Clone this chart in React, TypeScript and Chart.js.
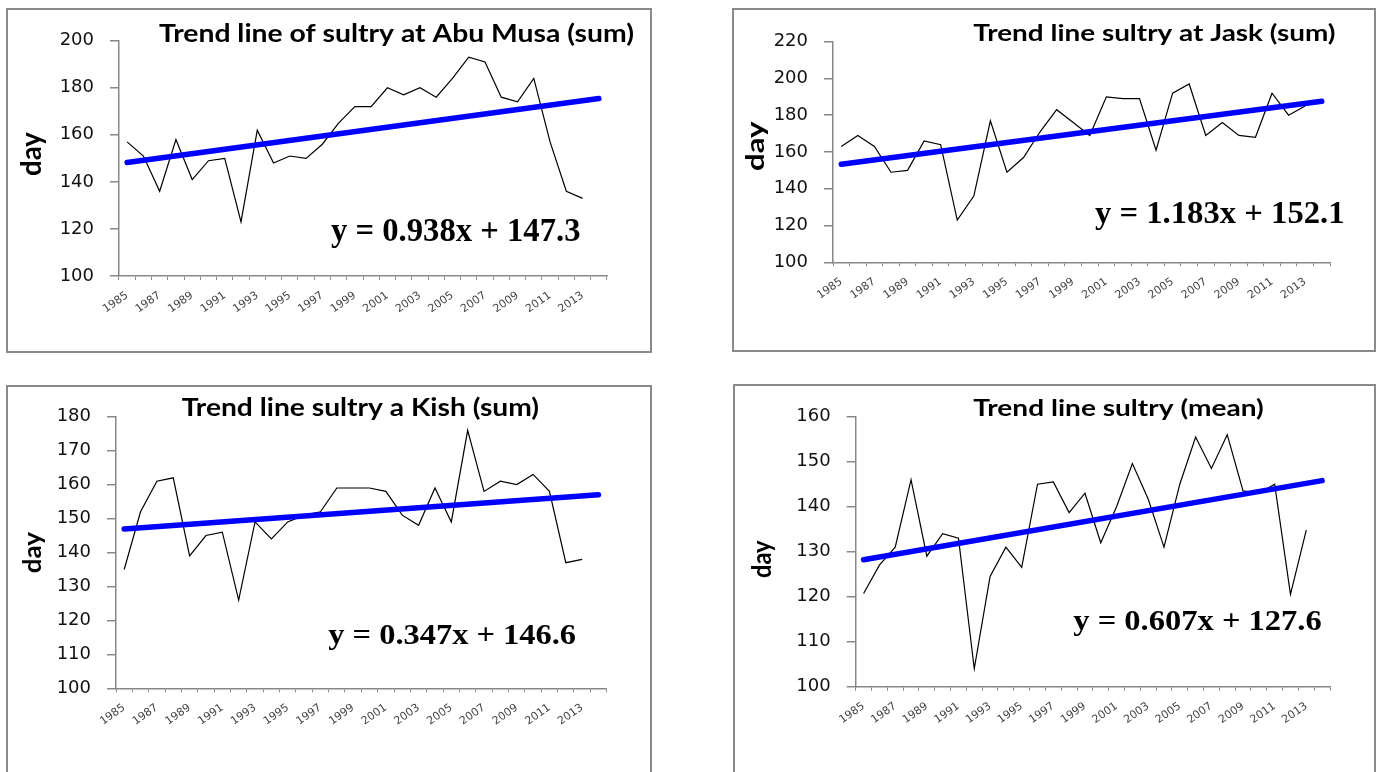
import React, { useEffect, useRef } from 'react';
import { Chart, registerables } from 'chart.js';

Chart.register(...registerables);

// ---------- data ----------
const years = [
  '1985', '1986', '1987', '1988', '1989', '1990', '1991', '1992', '1993', '1994',
  '1995', '1996', '1997', '1998', '1999', '2000', '2001', '2002', '2003', '2004',
  '2005', '2006', '2007', '2008', '2009', '2010', '2011', '2012', '2013', '2014',
];

const abuMusaValues = [157, 151, 136, 158, 141, 149, 150, 123, 162, 148, 151, 150, 156, 165, 172, 172, 180, 177, 180, 176, 184, 193, 191, 176, 174, 184, 157, 136, 133];
const jaskValues = [163, 169, 163, 149, 150, 166, 164, 123, 136, 177, 149, 157, 171, 183, 176, 169, 190, 189, 189, 161, 192, 197, 169, 176, 169, 168, 192, 180, 185];
const kishValues = [135, 152, 161, 162, 139, 145, 146, 126, 149, 144, 149, 151, 152, 159, 159, 159, 158, 151, 148, 159, 149, 176, 158, 161, 160, 163, 158, 137, 138];
const meanValues = [120.7, 127, 131, 146, 129, 134, 133, 104, 124.5, 131, 126.5, 145, 145.5, 138.7, 143, 132, 140, 149.6, 141.7, 131, 145, 155.5, 148.5, 156, 143.5, 143, 145, 120.5, 134.8];

// trend line end points (first and last category)
const trendYears = ['1985', '2014'];
const abuMusaTrend = [148.2, 175.4];
const jaskTrend = [153.3, 187.6];
const kishTrend = [146.9, 157.0];
const meanTrend = [128.2, 145.8];

const abuMusaTicks = [100, 120, 140, 160, 180, 200];
const jaskTicks = [100, 120, 140, 160, 180, 200, 220];
const kishTicks = [100, 110, 120, 130, 140, 150, 160, 170, 180];
const meanTicks = [100, 110, 120, 130, 140, 150, 160];

const abuMusaTitle = 'Trend line of sultry at Abu Musa (sum)';
const jaskTitle = 'Trend line sultry at Jask (sum)';
const kishTitle = 'Trend line sultry a Kish (sum)';
const meanTitle = 'Trend line sultry (mean)';

const abuMusaEquation = 'y = 0.938x + 147.3';
const jaskEquation = 'y = 1.183x + 152.1';
const kishEquation = 'y = 0.347x + 146.6';
const meanEquation = 'y = 0.607x + 127.6';

const yAxisLabel = 'day';

// ---------- layout (page coordinates) ----------
type Box = { l: number; t: number; r: number; b: number };
type TextSpec = { x0: number; x1: number; base: number; size: number };
type DaySpec = { x0: number; x1: number; y0: number; y1: number };
type Panel = {
  title: string;
  equation: string;
  values: number[];
  trend: number[];
  ticks: number[];
  box: Box;
  plot: Box;
  titleSpec: TextSpec;
  eqSpec: TextSpec;
  daySpec: DaySpec;
};

const panels: Panel[] = [
  {
    title: abuMusaTitle, equation: abuMusaEquation, values: abuMusaValues, trend: abuMusaTrend, ticks: abuMusaTicks,
    box: { l: 6, t: 8, r: 652, b: 353 },
    plot: { l: 119, t: 40.7, r: 607, b: 276 },
    titleSpec: { x0: 159, x1: 634, base: 41.7, size: 25.5 },
    eqSpec: { x0: 331, x1: 580, base: 241, size: 33 },
    daySpec: { x0: 20, x1: 46.5, y0: 131.7, y1: 175 },
  },
  {
    title: jaskTitle, equation: jaskEquation, values: jaskValues, trend: jaskTrend, ticks: jaskTicks,
    box: { l: 732, t: 8, r: 1376, b: 352 },
    plot: { l: 833, t: 41.7, r: 1330, b: 262.3 },
    titleSpec: { x0: 973.3, x1: 1335, base: 40.7, size: 23.3 },
    eqSpec: { x0: 1095, x1: 1343, base: 223, size: 31 },
    daySpec: { x0: 745, x1: 768.3, y0: 121, y1: 171 },
  },
  {
    title: kishTitle, equation: kishEquation, values: kishValues, trend: kishTrend, ticks: kishTicks,
    box: { l: 6, t: 385, r: 652, b: 800 },
    plot: { l: 116, t: 416.7, r: 606.7, b: 688.3 },
    titleSpec: { x0: 181.7, x1: 538.3, base: 415.7, size: 24.3 },
    eqSpec: { x0: 328.3, x1: 576, base: 644.3, size: 30 },
    daySpec: { x0: 21.7, x1: 45, y0: 531.7, y1: 573.3 },
  },
  {
    title: meanTitle, equation: meanEquation, values: meanValues, trend: meanTrend, ticks: meanTicks,
    box: { l: 733, t: 384, r: 1376, b: 800 },
    plot: { l: 855.7, t: 416.7, r: 1330, b: 686.7 },
    titleSpec: { x0: 973.3, x1: 1263.3, base: 415.7, size: 23.3 },
    eqSpec: { x0: 1073.3, x1: 1321.7, base: 630, size: 30 },
    daySpec: { x0: 751, x1: 776, y0: 540, y1: 578 },
  },
];

// ---------- text helpers ----------
function drawFitted(ctx: CanvasRenderingContext2D, text: string, font: string, x0: number, x1: number, base: number) {
  ctx.save();
  ctx.font = font;
  ctx.textAlign = 'left';
  ctx.textBaseline = 'alphabetic';
  ctx.fillStyle = '#000';
  const m = ctx.measureText(text);
  const ink = m.actualBoundingBoxLeft + m.actualBoundingBoxRight;
  const k = (x1 - x0) / ink;
  ctx.translate(x0, base);
  ctx.scale(k, 1);
  ctx.fillText(text, m.actualBoundingBoxLeft, 0);
  ctx.restore();
}

function drawVertical(ctx: CanvasRenderingContext2D, text: string, family: string, d: DaySpec) {
  ctx.save();
  ctx.font = `bold 100px ${family}`;
  let m = ctx.measureText(text);
  const thick100 = m.actualBoundingBoxAscent + m.actualBoundingBoxDescent;
  const size = (100 * (d.x1 - d.x0)) / thick100;
  ctx.font = `bold ${size}px ${family}`;
  ctx.textAlign = 'left';
  ctx.textBaseline = 'alphabetic';
  ctx.fillStyle = '#000';
  m = ctx.measureText(text);
  const ink = m.actualBoundingBoxLeft + m.actualBoundingBoxRight;
  const k = (d.y1 - d.y0) / ink;
  const baseX = d.x0 + m.actualBoundingBoxAscent;
  ctx.translate(baseX, d.y1);
  ctx.rotate(-Math.PI / 2);
  ctx.scale(k, 1);
  ctx.fillText(text, m.actualBoundingBoxLeft, 0);
  ctx.restore();
}

function ChartPanel({ p }: { p: Panel }) {
  const ref = useRef<HTMLCanvasElement | null>(null);
  const W = p.box.r - p.box.l;
  const H = p.box.b - p.box.t;

  useEffect(() => {
    if (!ref.current) return;
    const ox = p.box.l;
    const oy = p.box.t;
    const labelsPlugin = {
      id: 'panelTexts',
      afterDraw(chart: Chart) {
        const ctx = chart.ctx;
        const ts = p.titleSpec;
        drawFitted(ctx, p.title, `bold ${ts.size}px Lato`, ts.x0 - ox, ts.x1 - ox, ts.base - oy);
        const es = p.eqSpec;
        drawFitted(ctx, p.equation, `bold ${es.size}px "Liberation Serif"`, es.x0 - ox, es.x1 - ox, es.base - oy);
        const d = p.daySpec;
        drawVertical(ctx, yAxisLabel, 'Lato', { x0: d.x0 - ox, x1: d.x1 - ox, y0: d.y0 - oy, y1: d.y1 - oy });
      },
    };

    const chart = new Chart(ref.current, {
      type: 'line',
      data: {
        labels: years,
        datasets: [
          {
            label: 'Linear trend',
            data: [
              { x: trendYears[0], y: p.trend[0] },
              { x: trendYears[1], y: p.trend[1] },
            ] as any,
            borderColor: '#0000ff',
            borderWidth: 5.5,
            borderCapStyle: 'round',
            pointRadius: 0,
            order: 0,
          },
          {
            label: 'sultry',
            data: p.values,
            borderColor: '#000000',
            borderWidth: 1.2,
            pointRadius: 0,
            tension: 0,
            order: 1,
          },
        ],
      },
      options: {
        animation: false,
        responsive: false,
        devicePixelRatio: 1,
        layout: {
          padding: { top: p.plot.t - p.box.t, right: p.box.r - p.plot.r, left: 0, bottom: 0 },
        },
        plugins: {
          legend: { display: false },
          title: { display: false },
          tooltip: { enabled: false },
        },
        scales: {
          x: {
            type: 'category',
            offset: true,
            grid: { offset: true, drawOnChartArea: false, drawTicks: true, tickLength: 4, color: '#888', lineWidth: 1 },
            border: { display: true, color: '#888', width: 1.5 },
            ticks: {
              autoSkip: false,
              maxRotation: 35,
              minRotation: 35,
              padding: 9,
              color: '#444',
              font: { family: 'DejaVu Sans', size: 11 },
              callback: (_v: any, i: number) => (i % 2 === 0 ? years[i] : ''),
            },
            afterFit: (s: any) => {
              s.height = p.box.b - p.plot.b;
            },
          },
          y: {
            min: p.ticks[0],
            max: p.ticks[p.ticks.length - 1],
            ticks: {
              stepSize: p.ticks[1] - p.ticks[0],
              padding: 16,
              color: '#111',
              font: { family: 'DejaVu Sans', size: 18 },
            },
            grid: { drawOnChartArea: false, drawTicks: true, tickLength: 9, color: '#888', lineWidth: 1.5 },
            border: { display: true, color: '#888', width: 1.5 },
            afterFit: (s: any) => {
              s.width = p.plot.l - p.box.l;
            },
          },
        },
      },
      plugins: [labelsPlugin],
    } as any);
    return () => chart.destroy();
  }, [p]);

  return (
    <>
      <canvas
        ref={ref}
        width={W}
        height={H}
        style={{ position: 'absolute', left: p.box.l, top: p.box.t, width: W, height: H }}
      />
      <div
        style={{
          position: 'absolute',
          left: p.box.l,
          top: p.box.t,
          width: W,
          height: H,
          border: '2px solid #8a8a8a',
          boxSizing: 'border-box',
          pointerEvents: 'none',
        }}
      />
    </>
  );
}

export default function App() {
  return (
    <div
      style={{
        position: 'absolute',
        left: 0,
        top: 0,
        width: 1377,
        height: 772,
        overflow: 'hidden',
        background: '#fff',
      }}
    >
      {panels.map((p, i) => (
        <ChartPanel key={i} p={p} />
      ))}
    </div>
  );
}
